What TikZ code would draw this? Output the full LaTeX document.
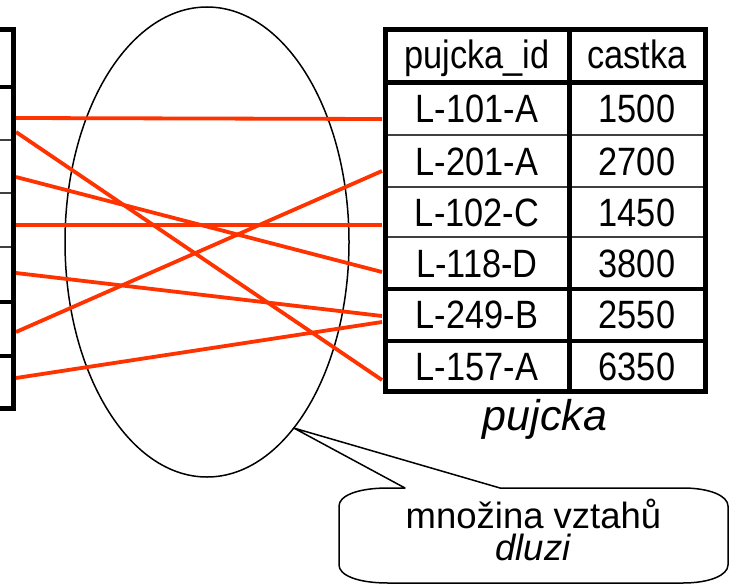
\documentclass[tikz,border=0pt]{standalone}
\usepackage{fontspec}
\setmainfont{Liberation Sans}
\newfontfamily\cellfont[FakeStretch=0.87]{Liberation Sans}
\usetikzlibrary{shapes.geometric}
\definecolor{linkred}{HTML}{FF3300}

\begin{document}
\begin{tikzpicture}[x=1pt,y=-1pt,
  cell/.style={anchor=base, inner sep=0pt, font=\cellfont\fontsize{39.5}{44}\selectfont},
  relline/.style={draw=linkred, line width=3.8pt},
  outerframe/.style={line width=5pt, line join=miter},
  thickrule/.style={line width=4pt},
  thinrule/.style={line width=1.8pt, draw=black!75},
  balloon/.style={draw, fill=white, line width=1.5pt, line join=round},
]
\useasboundingbox (0,0) rectangle (730,586);

% relationship set
\node[draw, ellipse, line width=1.5pt, minimum width=284pt, minimum height=470pt,
      inner sep=0pt, outer sep=0pt] (set) at (207,242) {};

% connection points on the left table (right edge)
\coordinate (l1) at (16,118);
\coordinate (l2) at (16,132);
\coordinate (l3) at (16,177);
\coordinate (l4) at (16,225);
\coordinate (l5) at (16,273);
\coordinate (l6) at (16,332);
\coordinate (l7) at (16,378);
% connection points on the pujcka table (left edge)
\coordinate (r1) at (382,119);
\coordinate (r2) at (382,171);
\coordinate (r3) at (382,225);
\coordinate (r4) at (382,272);
\coordinate (r5a) at (382,316);
\coordinate (r5b) at (382,322);
\coordinate (r6) at (382,380);

\draw[relline] (l1) -- (r1);
\draw[relline] (l2) -- (r6);
\draw[relline] (l3) -- (r4);
\draw[relline] (l4) -- (r3);
\draw[relline] (l5) -- (r5a);
\draw[relline] (l6) -- (r2);
\draw[relline] (l7) -- (r5b);

% left table (only its right edge is visible)
\draw[thinrule] (0,140) -- (13.5,140) (0,193) -- (13.5,193) (0,247) -- (13.5,247);
\draw[thickrule] (0,87) -- (13.5,87) (0,302) -- (13.5,302) (0,356) -- (13.5,356);
\draw[outerframe] (0,30) -- (13.5,30) -- (13.5,408) -- (0,408);

% pujcka table
\draw[thinrule] (385,135) -- (705,135) (385,187) -- (705,187) (385,237) -- (705,237);
\draw[thickrule] (385,289) -- (705,289) (385,341) -- (705,341);
\draw[outerframe] (385,82) -- (705,82) (569,30) -- (569,391);
\draw[outerframe] (385,30) rectangle (705,391);

\node[cell] (h1) at (477,68) {pujcka\_id};
\node[cell] (h2) at (637,68) {castka};
\node[cell] (a1) at (477,122) {L-101-A};
\node[cell] (b1) at (637,122) {1500};
\node[cell] (a2) at (477,175) {L-201-A};
\node[cell] (b2) at (637,175) {2700};
\node[cell] (a3) at (477,226) {L-102-C};
\node[cell] (b3) at (637,226) {1450};
\node[cell] (a4) at (477,277) {L-118-D};
\node[cell] (b4) at (637,277) {3800};
\node[cell] (a5) at (477,328) {L-249-B};
\node[cell] (b5) at (637,328) {2550};
\node[cell] (a6) at (477,380) {L-157-A};
\node[cell] (b6) at (637,380) {6350};

\node[anchor=base, inner sep=0pt, font=\itshape\fontsize{43}{48}\selectfont] (tname) at (545,430) {pujcka};

% callout pointing at the relationship set
\coordinate (tip) at (set.-65.6);
\draw[balloon] (tip) -- (500,488) -- (683,488)
  .. controls (710,488) and (728,496) .. (728,506) -- (728,565)
  .. controls (728,575) and (710,583) .. (683,583) -- (388,583)
  .. controls (357,583) and (339,575) .. (339,565) -- (339,506)
  .. controls (339,496) and (357,488) .. (388,488) -- (405,488) -- cycle;

% two-line label; the base anchor sits on the last line
\node[anchor=base, align=center, inner sep=0pt, font=\fontsize{36.5}{32}\selectfont]
  (note) at (533.5,560) {množina vztahů\\\textit{dluzi}};
\end{tikzpicture}
\end{document}
